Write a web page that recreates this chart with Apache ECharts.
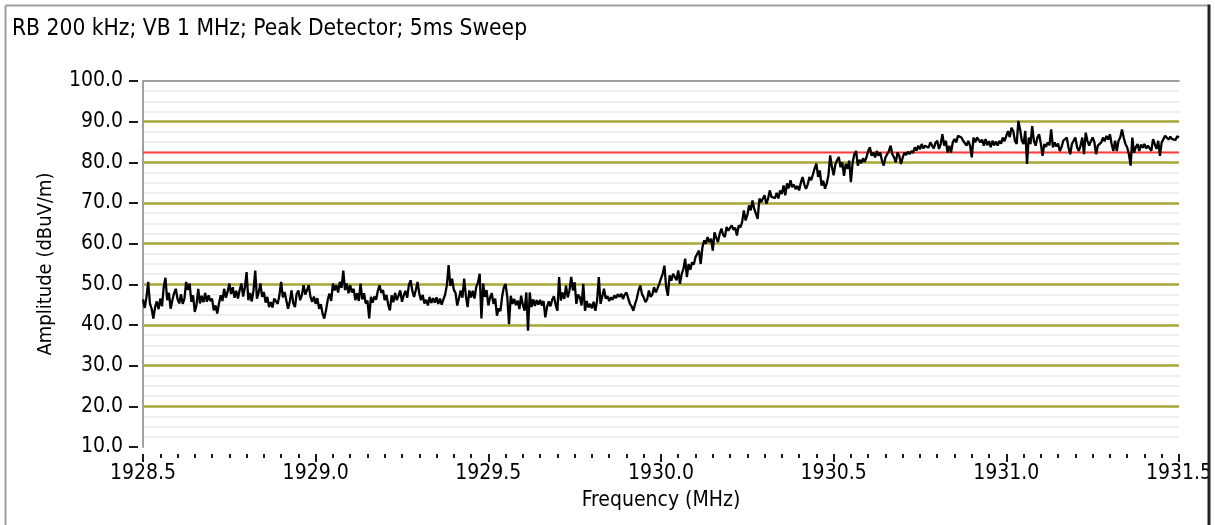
<!DOCTYPE html>
<html>
<head>
<meta charset="utf-8">
<script src="https://cdn.jsdelivr.net/npm/echarts@6/dist/echarts.min.js"></script>
<style>
html,body{margin:0;padding:0;background:#ffffff;}
#chart{width:1215px;height:525px;}
</style>
</head>
<body>
<div id="chart"></div>
<script>
// ---------------- data ----------------
const chartTitle = 'RB 200 kHz; VB 1 MHz; Peak Detector; 5ms Sweep';
const xAxisName = 'Frequency (MHz)';
const yAxisName = 'Amplitude (dBuV/m)';
const freqStartMHz = 1928.5;
const freqStopMHz = 1931.5;
const freqTickStep = 0.5;
const ampMin = 10;
const ampMax = 100;
const ampTickStep = 10;
const limitLevel = 82.4;

// measured trace, 601 sweep points from 1928.5 to 1931.5 MHz (dBuV/m)
const traceLow = [
46.3,44.2,46.8,50.6,45.3,44.0,41.6,44.4,45.8,43.9,
46.5,44.6,49.3,51.6,46.1,47.9,44.0,46.1,47.8,48.9,
46.4,45.3,47.6,45.2,46.5,50.6,48.6,50.2,45.7,47.3,
43.2,45.0,48.9,45.3,47.2,45.6,47.9,45.7,47.3,45.9,
46.5,43.6,44.8,42.8,45.3,47.3,45.9,48.9,46.7,48.2,
50.2,47.6,49.3,46.7,48.4,46.5,48.6,50.2,47.0,49.2,53.0,
46.1,47.9,45.8,48.5,53.4,
46.5,48.0,50.2,46.9,48.1,45.5,46.9,44.4,45.6,44.3,46.5,46.9,45.2,47.3,50.6,46.8,48.1,46.1,44.0,45.7,
48.5,45.4,44.4,47.7,48.5,46.1,47.3,49.8,47.5,48.6,49.8,46.9,45.7,47.0,45.2,46.6,44.0,45.1,42.8,41.6,
43.6,46.2,47.7,45.9,50.2,48.5,49.8,48.0,50.6,49.1,53.4,
48.6,50.2,47.8,49.8,48.0,48.9,46.1,47.8,45.9,50.2,46.3,47.8,45.3,46.0,41.6,
46.9,45.5,47.0,46.2,48.4,49.8,47.9,48.6,46.1,47.4,45.0,43.6,47.3,45.6,47.9,46.1,47.2,48.5,45.7,47.3,
48.4,46.7,49.8,51.0,48.4,46.9,48.6,50.6,47.8,46.1,47.4,45.3,46.2,44.8,46.9,45.4,46.6,45.5,46.8,45.2,
46.5,45.0,46.3,47.5,49.8,54.7,
49.6,51.4,48.7,47.9,44.8,46.6,48.5,46.7,51.4,47.2,44.4,48.5,46.8,48.4,46.5,49.3,50.4,52.6,41.6,
50.2,46.9,48.6,44.8,46.7,47.8,45.2,46.5
];
const traceRise = [
42.3,44.1,43.4,47.0,49.3,50.1,46.8,40.2,47.2,45.2,
46.4,44.9,46.0,43.9,47.2,45.0,43.5,48.0,38.6,48.0,
44.4,46.3,44.7,46.1,45.0,46.2,44.8,45.9,41.9,44.4,
45.8,44.6,46.2,47.1,45.0,43.5,51.8,46.0,48.0,46.4,
49.7,46.8,48.5,51.8,48.5,50.5,45.2,47.5,46.8,44.8,
50.1,43.5,45.9,44.3,45.2,44.1,45.7,43.5,46.0,51.8,
45.2,47.0,48.9,46.5,47.1,45.9,46.8,46.2,47.3,46.6,
47.6,46.9,47.7,46.4,47.5,48.0,46.6,45.2,44.6,43.5,
45.2,46.5,48.5,49.7,47.6,46.8,45.6,46.3,48.5,46.9,
47.5,49.3,48.0,49.0,50.1,51.4,52.6,54.6,49.3,47.2,
52.2,50.9,52.6,51.8,51.0,53.4,50.1,52.6,53.8,56.3,
51.8,55.0,53.6,55.4,54.9,56.7,57.5,58.3,55.0,59.1,
60.8,60.0,61.6,60.4,61.2,58.3,62.8,61.5,60.4,62.4,
63.7,62.2,61.6,64.1,63.2,63.9,64.5,63.4,63.9,62.0,
64.5,64.0,65.3,68.2,65.7,67.0,69.4,68.2,70.6,68.6,
69.0,66.1,71.1,70.2,69.8,71.9,69.8,71.0,73.1,71.5,
71.9,71.2,72.5,71.1,73.1,72.2,74.3,71.9,74.8,73.6,
75.6,73.9,74.5,73.4,74.2,73.1,75.0,76.4,74.6,73.5,
74.6,76.4,75.6,77.0,78.5,79.7,76.4,78.0,74.3,75.5,
73.5,74.8,76.8,81.7,78.9,76.8,79.5,80.5,81.3
];
const traceHigh = [
78.8,80.0,76.7,79.6,78.4,80.4,75.1,80.0,82.0,82.8,
79.2,80.6,79.8,81.0,80.1,81.2,82.8,83.7,81.6,82.4,
81.2,82.8,81.6,82.4,80.4,79.2,81.2,82.0,82.8,84.1,
82.0,81.2,80.0,82.4,81.6,79.6,81.2,82.4,81.8,82.6,
82.0,82.8,82.3,83.7,82.9,84.1,83.2,84.5,83.4,84.1,
84.5,83.6,84.9,84.1,83.4,84.8,85.3,83.3,84.5,86.9,
84.1,85.3,82.4,84.1,82.4,84.9,85.7,84.9,86.5,86.9,
86.1,85.3,85.7,84.1,85.3,84.1,81.2,86.1,84.9,86.1,
86.5,84.9,85.6,84.1,85.7,84.2,85.2,83.7,85.3,84.2,
85.1,84.1,85.3,84.6,86.1,85.2,86.5,87.7,86.2,88.5,
87.7,85.3,84.5,90.2,88.1,85.3,84.5,87.7,79.6,86.1,
84.5,88.9,85.3,84.1,86.1,86.9,84.6,81.6,84.5,83.8,
84.9,84.2,88.1,83.7,84.9,83.9,84.6,82.8,83.7,85.3,
85.7,86.1,83.7,82.0,84.5,85.3,86.1,83.7,82.8,84.1,
86.1,82.0,87.3,85.3,84.1,85.2,86.1,85.0,82.0,84.1,
83.7,84.9,86.1,85.2,86.5,85.6,86.9,84.5,82.8,85.3,
82.8,85.3,86.1,88.1,86.1,84.5,83.7,82.0,79.2,86.1,
82.4,83.7,84.5,82.8,84.4,83.6,84.5,83.4,84.1,84.5,
82.8,85.7,84.5,83.3,85.3,81.6,84.9,85.7,86.5,86.1,
85.6,86.3,85.7,86.1,85.5,86.4,86.1
];
const amplitude = traceLow.concat(traceRise, traceHigh);

// ---------------- build ----------------
const FONT = '"DejaVu Sans Condensed", "DejaVu Sans", sans-serif';
const TXT = { fontFamily: FONT, fontSize: 21, color: '#000000' };

const nPts = amplitude.length;
const traceData = amplitude.map((a, i) => [freqStartMHz + i * (freqStopMHz - freqStartMHz) / (nPts - 1), a]);
const limitData = [[freqStartMHz, limitLevel], [freqStopMHz, limitLevel]];

const chart = echarts.init(document.getElementById('chart'), null, { renderer: 'canvas' });
chart.setOption({
  animation: false,
  backgroundColor: '#ffffff',
  title: {
    text: chartTitle, left: 7, top: 13,
    textStyle: { fontFamily: FONT, fontSize: 22.6, fontWeight: 'normal', color: '#000000' }
  },
  grid: { left: 143, right: 30, top: 81, bottom: 78, show: false },
  xAxis: [
    {
      type: 'value', min: freqStartMHz, max: freqStopMHz, interval: freqTickStep, position: 'bottom',
      axisLine: { show: false }, axisTick: { show: false }, axisLabel: { show: false }, splitLine: { show: false },
      name: xAxisName, nameLocation: 'middle', nameGap: 43, nameTextStyle: TXT
    },
    {
      type: 'value', min: freqStartMHz, max: freqStopMHz, interval: freqTickStep, position: 'bottom', offset: 7,
      axisLine: { show: false },
      axisTick: { show: true, length: 8, lineStyle: { color: '#1a1a1a', width: 2 } },
      minorTick: { show: true, splitNumber: 10, length: 4, lineStyle: { color: '#1a1a1a', width: 2 } },
      axisLabel: { margin: 9, formatter: v => v.toFixed(1), fontFamily: FONT, fontSize: 21, color: '#000' },
      splitLine: { show: false }
    },
    {
      type: 'value', min: freqStartMHz, max: freqStopMHz, position: 'top',
      axisLine: { show: true, lineStyle: { color: '#a0a0a0', width: 2 } },
      axisTick: { show: false }, axisLabel: { show: false }, splitLine: { show: false }
    }
  ],
  yAxis: [
    {
      type: 'value', min: ampMin, max: ampMax, interval: ampTickStep, position: 'left',
      axisLine: { show: true, lineStyle: { color: '#a0a0a0', width: 2 } },
      axisTick: { show: false }, axisLabel: { show: false },
      splitLine: { show: true, showMinLine: false, showMaxLine: false, lineStyle: { color: '#a9a633', width: 2.5 } },
      minorTick: { show: false, splitNumber: 4 },
      minorSplitLine: { show: true, lineStyle: { color: '#eeeeee', width: 2 } },
      name: yAxisName, nameLocation: 'middle', nameGap: 87, nameRotate: 90,
      nameTextStyle: { fontFamily: FONT, fontSize: 20, color: '#000000' }
    },
    {
      type: 'value', min: ampMin, max: ampMax, interval: ampTickStep, position: 'left', offset: 5,
      axisLine: { show: false },
      axisTick: { show: true, length: 9, lineStyle: { color: '#1a1a1a', width: 2 } },
      axisLabel: { margin: 15, formatter: v => v.toFixed(1), fontFamily: FONT, fontSize: 21, color: '#000' },
      splitLine: { show: false }
    }
  ],
  series: [
    {
      name: 'Limit', type: 'line', xAxisIndex: 0, yAxisIndex: 0, data: limitData,
      showSymbol: false, silent: true, z: 3,
      lineStyle: { color: '#ff3b3b', width: 2 }
    },
    {
      name: 'Trace', type: 'line', xAxisIndex: 0, yAxisIndex: 0, data: traceData,
      showSymbol: false, silent: true, z: 4,
      lineStyle: { color: '#000000', width: 2.3 }
    }
  ],
  graphic: [
    { type: 'rect', shape: { x: 1210, y: 0, width: 10, height: 525 }, style: { fill: '#ffffff' }, z: 100 },
    { type: 'line', shape: { x1: 5.5, y1: 5.5, x2: 1209, y2: 5.5 }, style: { stroke: '#a0a0a0', lineWidth: 2 }, z: 100 },
    { type: 'line', shape: { x1: 5.5, y1: 5.5, x2: 5.5, y2: 525 }, style: { stroke: '#a0a0a0', lineWidth: 2 }, z: 100 },
    { type: 'line', shape: { x1: 1209, y1: 4.5, x2: 1209, y2: 525 }, style: { stroke: '#222222', lineWidth: 3 }, z: 100 }
  ]
});
</script>
</body>
</html>
